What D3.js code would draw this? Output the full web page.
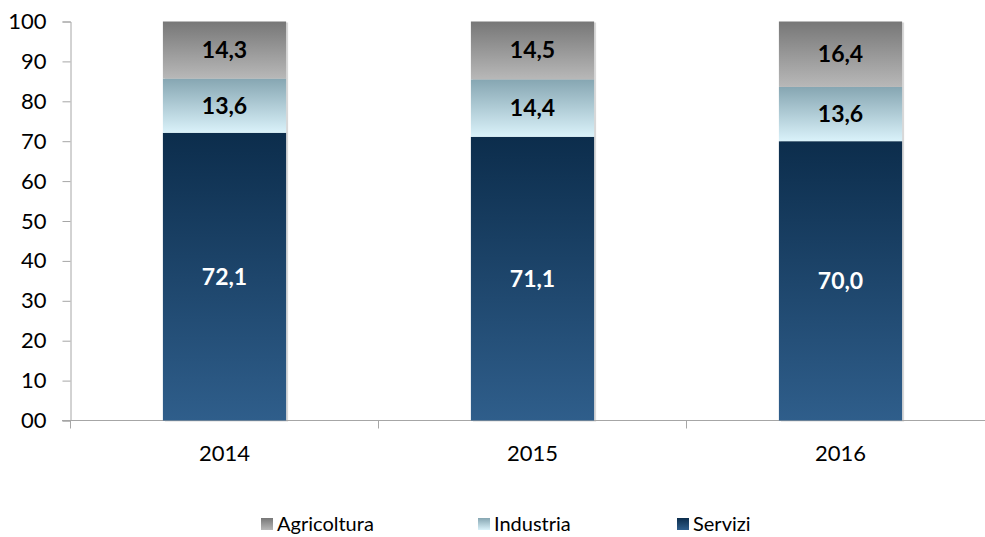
<!DOCTYPE html>
<html><head><meta charset="utf-8">
<script src="https://cdn.jsdelivr.net/npm/d3@7/dist/d3.min.js"></script>
<style>body{margin:0;background:#fff;} svg{display:block;}</style>
</head><body><svg id="c" width="985" height="537"></svg>
<script>
const categories = ["2014", "2015", "2016"];
const seriesNames = ["Servizi", "Industria", "Agricoltura"];
const servizi = [72.1, 71.1, 70.0];
const industria = [13.6, 14.4, 13.6];
const agricoltura = [14.3, 14.5, 16.4];
const yTicks = [0, 10, 20, 30, 40, 50, 60, 70, 80, 90, 100];
const yTickLabels = ["00", "10", "20", "30", "40", "50", "60", "70", "80", "90", "100"];
const legendOrder = ["Agricoltura", "Industria", "Servizi"];

const svg = d3.select("#c");
const font = "Lato, 'Open Sans', 'Liberation Sans', sans-serif";
const x = d3.scaleBand().domain(categories).range([70.5, 994.5]).paddingInner(0.6).paddingOuter(0.3);
const y = d3.scaleLinear().domain([0, 100]).range([420.5, 21.5]);

const defs = svg.append("defs");
const grads = {
  Servizi: ["#0c2d4c", "#2f5e8b"],
  Industria: ["#86a6b2", "#daf2fa"],
  Agricoltura: ["#777777", "#b8b8b8"]
};
Object.entries(grads).forEach(([k, [a, b]]) => {
  const g = defs.append("linearGradient").attr("id", "g" + k).attr("x1", 0).attr("y1", 0).attr("x2", 0).attr("y2", 1);
  g.append("stop").attr("offset", "0%").attr("stop-color", a);
  g.append("stop").attr("offset", "100%").attr("stop-color", b);
});

const data = categories.map((c, i) => ({cat: c, Servizi: servizi[i], Industria: industria[i], Agricoltura: agricoltura[i]}));
const stack = d3.stack().keys(seriesNames)(data);

// bar shadows
svg.append("g").selectAll("rect").data(data).join("rect")
  .attr("x", d => x(d.cat) + 2).attr("width", x.bandwidth())
  .attr("y", d => y(d.Servizi + d.Industria + d.Agricoltura) + 1)
  .attr("height", d => y(0) - y(d.Servizi + d.Industria + d.Agricoltura))
  .attr("fill", "#d8d8d8");

// y axis
const yAxis = d3.axisLeft(y).tickValues(yTicks).tickFormat((d, i) => yTickLabels[i]).tickSize(8).tickPadding(16);
const ya = svg.append("g").attr("transform", "translate(70.5,0)").call(yAxis);
ya.select(".domain").attr("stroke", "#a6a6a6");
ya.selectAll(".tick line").attr("stroke", "#a6a6a6");
ya.selectAll(".tick text").attr("font-family", font).attr("font-size", 22).attr("fill", "#000");

// x axis
const xAxis = d3.axisBottom(x).tickSize(0).tickPadding(25);
const xa = svg.append("g").attr("transform", "translate(0,420.5)").call(xAxis);
xa.select(".domain").remove();
xa.append("line").attr("x1", 62).attr("x2", 985).attr("stroke", "#a6a6a6");
[0, 1, 2, 3].forEach(i => {
  const xp = 70.5 + i * x.step();
  xa.append("line").attr("x1", xp).attr("x2", xp).attr("y1", 0).attr("y2", 8).attr("stroke", "#a6a6a6");
});
xa.selectAll(".tick text").attr("font-family", font).attr("font-size", 22).attr("fill", "#000");

// bars
stack.forEach(s => {
  const key = s.key;
  svg.append("g").selectAll("rect").data(s).join("rect")
    .attr("x", d => x(d.data.cat)).attr("width", x.bandwidth())
    .attr("y", d => y(d[1])).attr("height", d => y(d[0]) - y(d[1]))
    .attr("fill", "url(#g" + key + ")");
  svg.append("g").selectAll("text").data(s).join("text")
    .attr("x", d => x(d.data.cat) + x.bandwidth() / 2)
    .attr("y", d => y((d[0] + d[1]) / 2))
    .attr("dy", "0.35em").attr("text-anchor", "middle")
    .attr("font-family", font).attr("font-weight", "bold").attr("font-size", 23)
    .attr("fill", key === "Servizi" ? "#fff" : "#000")
    .text(d => (d[1] - d[0]).toFixed(1).replace(".", ","));
});

// legend
const legX = {Agricoltura: 261, Industria: 478, Servizi: 677};
legendOrder.forEach(k => {
  const g = svg.append("g").attr("transform", `translate(${legX[k]},518)`);
  g.append("rect").attr("width", 12).attr("height", 12).attr("fill", "url(#g" + k + ")");
  g.append("text").attr("x", 16).attr("y", 6).attr("dy", "0.35em")
    .attr("font-family", font).attr("font-size", 20).attr("fill", "#000").text(k);
});
</script></body></html>
